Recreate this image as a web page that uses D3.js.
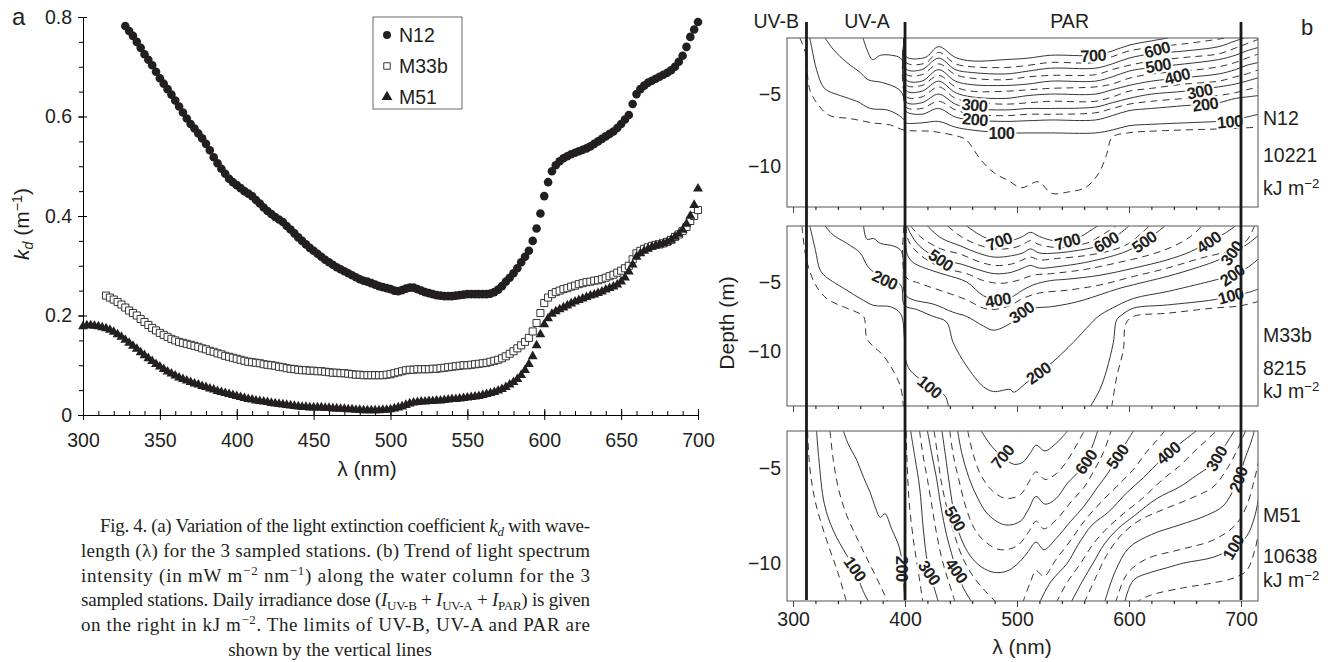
<!DOCTYPE html>
<html>
<head>
<meta charset="utf-8">
<script src="https://cdn.jsdelivr.net/npm/d3@7/dist/d3.min.js"></script>
<style>
body { margin: 0; background: #fff; }
text { font-family: "Liberation Sans", Arial, Helvetica, sans-serif; fill: #231f20; }
</style>
</head>
<body>
<div id="divChart"></div>
<script>
// ---- panel a : kd spectra (one row = 25 nm) ----
var wavelengths = [
  300,302.5,305,307.5,310,312.5,315,317.5,320,322.5,
  325,327.5,330,332.5,335,337.5,340,342.5,345,347.5,
  350,352.5,355,357.5,360,362.5,365,367.5,370,372.5,
  375,377.5,380,382.5,385,387.5,390,392.5,395,397.5,
  400,402.5,405,407.5,410,412.5,415,417.5,420,422.5,
  425,427.5,430,432.5,435,437.5,440,442.5,445,447.5,
  450,452.5,455,457.5,460,462.5,465,467.5,470,472.5,
  475,477.5,480,482.5,485,487.5,490,492.5,495,497.5,
  500,502.5,505,507.5,510,512.5,515,517.5,520,522.5,
  525,527.5,530,532.5,535,537.5,540,542.5,545,547.5,
  550,552.5,555,557.5,560,562.5,565,567.5,570,572.5,
  575,577.5,580,582.5,585,587.5,590,592.5,595,597.5,
  600,602.5,605,607.5,610,612.5,615,617.5,620,622.5,
  625,627.5,630,632.5,635,637.5,640,642.5,645,647.5,
  650,652.5,655,657.5,660,662.5,665,667.5,670,672.5,
  675,677.5,680,682.5,685,687.5,690,692.5,695,697.5,
  700];

var kdN12 = [
  null,null,null,null,null,null,null,null,null,null,
  null,.782,.772,.762,.750,.738,.725,.714,.703,.690,
  .677,.666,.655,.644,.632,.620,.608,.596,.585,.576,
  .566,.556,.545,.532,.518,.506,.495,.485,.475,.468,
  .462,.456,.450,.445,.440,.432,.425,.417,.410,.404,
  .398,.393,.388,.380,.373,.365,.357,.350,.343,.336,
  .330,.324,.318,.312,.307,.302,.297,.293,.289,.285,
  .281,.277,.273,.270,.268,.265,.262,.259,.257,.255,
  .253,.250,.249,.251,.254,.256,.256,.253,.250,.247,
  .245,.243,.241,.240,.239,.239,.239,.240,.241,.242,
  .243,.243,.243,.243,.243,.243,.244,.247,.252,.259,
  .268,.276,.285,.295,.307,.318,.330,.350,.375,.405,
  .440,.468,.490,.502,.510,.516,.520,.524,.527,.530,
  .533,.536,.540,.545,.550,.555,.560,.565,.570,.577,
  .585,.594,.603,.625,.645,.655,.662,.668,.672,.676,
  .680,.684,.688,.693,.700,.710,.722,.740,.760,.775,
  .790];

var kdM33b = [
  null,null,null,null,null,null,.240,.236,.232,.227,
  .222,.216,.210,.205,.200,.193,.187,.181,.175,.170,
  .165,.161,.157,.153,.150,.147,.145,.143,.141,.139,
  .137,.134,.132,.129,.127,.124,.122,.119,.117,.115,
  .113,.111,.109,.107,.106,.105,.104,.102,.101,.100,
  .099,.097,.096,.094,.093,.092,.091,.090,.090,.089,
  .089,.088,.088,.087,.086,.085,.085,.084,.084,.083,
  .082,.081,.081,.080,.080,.080,.080,.080,.080,.081,
  .082,.084,.086,.088,.090,.091,.091,.092,.092,.092,
  .092,.093,.093,.094,.095,.096,.097,.098,.099,.100,
  .100,.101,.102,.103,.104,.105,.107,.109,.111,.114,
  .118,.123,.128,.134,.140,.147,.155,.168,.185,.205,
  .225,.236,.243,.247,.250,.253,.255,.258,.260,.263,
  .265,.267,.268,.270,.271,.273,.276,.279,.282,.286,
  .290,.295,.300,.313,.325,.330,.334,.337,.340,.342,
  .343,.345,.348,.352,.358,.363,.370,.378,.390,.400,
  .412];

var kdM51 = [
  .178,.180,.180,.179,.178,.176,.174,.171,.167,.162,
  .157,.151,.145,.139,.133,.126,.120,.114,.108,.102,
  .097,.092,.087,.083,.079,.075,.072,.069,.066,.063,
  .061,.058,.056,.053,.051,.048,.046,.044,.042,.040,
  .038,.036,.034,.032,.031,.029,.028,.027,.026,.024,
  .023,.022,.021,.020,.019,.018,.017,.016,.016,.015,
  .015,.015,.015,.014,.014,.013,.013,.012,.012,.011,
  .011,.010,.010,.009,.009,.009,.009,.009,.010,.010,
  .011,.013,.015,.017,.020,.023,.025,.026,.027,.027,
  .028,.028,.029,.029,.030,.031,.032,.032,.033,.034,
  .035,.036,.037,.038,.040,.042,.044,.046,.049,.052,
  .056,.061,.066,.072,.080,.090,.102,.118,.140,.162,
  .182,.194,.203,.208,.212,.216,.220,.224,.228,.231,
  .234,.237,.240,.242,.245,.248,.252,.255,.258,.262,
  .268,.276,.288,.302,.318,.325,.330,.334,.338,.341,
  .343,.345,.348,.352,.358,.364,.372,.384,.400,.422,
  .455];

var seriesNames = ["N12", "M33b", "M51"];
var kdTicks = [0, 0.2, 0.4, 0.6, 0.8];
var kdTickLabels = ["0", "0.2", "0.4", "0.6", "0.8"];
var lambdaTicks = [300, 350, 400, 450, 500, 550, 600, 650, 700];

// ---- panel b : irradiance contours (level, [wavelength, depth] points) ----
var specTicks = [300, 400, 500, 600, 700];
var depthTicks = [-5, -10];
var bandEdges = [312, 400, 700];
var bandNames = ["UV-B", "UV-A", "PAR"];
var stations = ["N12", "M33b", "M51"];
var doses = ["10221", "8215", "10638"];

var n12Lines = [
  [50, [[306,-1.1],[311,-2.1],[315,-4.7],[324,-5.9],[333,-6.5],[351,-6.7],[371,-7.0],[387,-7.15],[399,-7.5],[425,-7.6],[450,-8.0],[455,-8.2],[468,-9.6],[480,-10.5],[492,-11.0],[504,-11.5],[519,-11.1],[531,-11.9],[546,-11.8],[561,-11.5],[573,-10.5],[580,-9.2],[585,-8.0],[599,-7.7],[629,-7.55],[689,-7.4],[716,-7.3]]],
  [100, [[315,-1.1],[317,-1.9],[321,-3.3],[328,-4.6],[342,-5.1],[357,-5.5],[369,-6.0],[384,-6.1],[395,-6.5],[399.2,-6.8],[400.8,-7.0],[415,-7.0],[430,-6.9],[445,-7.3],[460,-7.5],[490,-7.7],[510,-7.7],[530,-7.7],[570,-7.7],[585,-7.5],[600,-7.2],[620,-7.1],[650,-7.0],[680,-6.9],[695,-6.8],[705,-6.6],[716,-6.4]]],
  [200, [[328.6,-1.1],[336,-1.9],[348,-2.8],[360,-3.5],[367,-4.0],[380,-4.2],[395,-4.7],[399.2,-5.3],[400.8,-6.2],[415,-6.4],[430,-6.0],[445,-6.6],[460,-6.8],[490,-6.9],[510,-6.85],[530,-6.8],[570,-6.8],[585,-6.5],[600,-6.15],[620,-6.0],[650,-5.8],[680,-5.6],[695,-5.3],[705,-5.2],[716,-5.1]]],
  [250, [[399.2,-4.2],[400.8,-5.9],[415,-6.0],[430,-5.5],[445,-6.1],[460,-6.4],[490,-6.5],[510,-6.4],[530,-6.4],[570,-6.3],[585,-6.0],[600,-5.7],[620,-5.5],[650,-5.3],[680,-5.1],[695,-4.9],[705,-4.7],[716,-4.5]]],
  [300, [[362.5,-1.1],[366,-1.9],[371,-2.6],[378,-2.3],[388,-2.3],[396,-2.5],[399.2,-3.1],[400.8,-5.55],[415,-5.6],[430,-5.0],[445,-5.7],[460,-6.0],[490,-6.1],[510,-6.0],[530,-6.0],[570,-5.9],[585,-5.6],[600,-5.3],[620,-5.0],[650,-4.8],[680,-4.5],[695,-4.3],[705,-4.1],[716,-3.85]]],
  [350, [[399.2,-1.1],[400.8,-5.15],[415,-5.2],[430,-4.5],[445,-5.3],[460,-5.55],[490,-5.7],[510,-5.6],[530,-5.5],[570,-5.5],[585,-5.2],[600,-4.8],[620,-4.6],[650,-4.3],[680,-4.1],[695,-3.8],[705,-3.6],[716,-3.3]]],
  [400, [[399.2,-1.1],[400.8,-4.75],[415,-4.8],[430,-4.1],[445,-4.9],[460,-5.2],[490,-5.3],[510,-5.1],[530,-5.0],[570,-5.0],[585,-4.7],[600,-4.4],[620,-4.1],[650,-3.85],[680,-3.6],[695,-3.3],[705,-3.0],[716,-2.8]]],
  [450, [[399.2,-1.1],[400.8,-4.35],[415,-4.4],[430,-3.7],[445,-4.5],[460,-4.8],[490,-4.8],[510,-4.7],[530,-4.6],[570,-4.5],[585,-4.3],[600,-3.9],[620,-3.6],[650,-3.4],[680,-3.1],[695,-2.8],[705,-2.5],[716,-2.2]]],
  [500, [[399.2,-1.1],[400.8,-4.0],[415,-4.1],[430,-3.3],[445,-4.1],[460,-4.35],[490,-4.4],[510,-4.3],[530,-4.1],[570,-4.1],[585,-3.8],[600,-3.4],[620,-3.15],[650,-2.9],[680,-2.6],[695,-2.3],[705,-2.0],[716,-1.75]]],
  [550, [[399.2,-1.1],[400.8,-3.6],[415,-3.65],[430,-2.9],[445,-3.65],[460,-3.9],[490,-4.0],[510,-3.8],[530,-3.7],[570,-3.65],[585,-3.3],[600,-3.0],[620,-2.7],[650,-2.45],[680,-2.2],[695,-1.8],[705,-1.5],[716,-1.18]]],
  [600, [[399.2,-1.1],[400.8,-3.25],[415,-3.3],[430,-2.5],[445,-3.3],[460,-3.5],[490,-3.6],[510,-3.4],[530,-3.2],[570,-3.2],[585,-2.9],[600,-2.5],[620,-2.2],[650,-2.0],[680,-1.7],[695,-1.3],[703,-1.1]]],
  [650, [[399.2,-1.1],[400.8,-2.8],[418,-2.85],[430,-2.1],[445,-2.9],[460,-3.1],[490,-3.15],[510,-3.0],[530,-2.8],[570,-2.8],[585,-2.4],[600,-2.0],[620,-1.75],[650,-1.5],[680,-1.18],[686,-1.1]]],
  [700, [[399.2,-1.1],[400.8,-2.4],[418,-2.45],[430,-1.7],[445,-2.45],[460,-2.7],[490,-2.6],[510,-2.5],[530,-2.3],[570,-2.3],[585,-2.0],[600,-1.6],[620,-1.3],[635,-1.1]]]
];
var n12Labels = [["700",568,-2.3,-3],["600",625,-1.9,-15],["500",626,-3.0,-10],["400",643,-3.75,-15],
  ["300",663,-4.8,-12],["200",668,-5.7,-8],["100",690,-6.9,-5],["300",462,-5.75,5],["200",462.5,-6.75,5],["100",486,-7.7,0]];

var m33bLines = [
  [50, [[308,-0.94],[312,-3.4],[320,-5.2],[330,-6.2],[348,-6.9],[357,-7.2],[363,-7.5],[366,-9.1],[372,-9.7],[379,-10.2],[387,-11.1],[396,-12.6],[398.5,-14.1]]],
  [50, [[584.5,-14.1],[589,-11.9],[595,-9.9],[597.3,-8.0],[604,-7.5],[634,-7.27],[675,-6.9],[699,-6.74],[716,-6.4]]],
  [100, [[315,-0.94],[320,-2.7],[324,-4.1],[329,-4.6],[348,-5.6],[360,-6.2],[372,-6.7],[387,-6.8],[396,-7.3],[399.5,-9.1],[400.5,-10.6],[404.5,-11.4],[416,-12.2],[428,-12.8],[436,-13.3],[439,-14.1]]],
  [100, [[565,-14.1],[574,-12.8],[580,-11.4],[586,-9.4],[589,-7.75],[593.4,-7.4],[604,-6.9],[634,-6.67],[675,-6.3],[690,-6.05],[705,-5.8],[716,-5.5]]],
  [200, [[328.6,-0.94],[336,-1.6],[348,-2.2],[360,-2.9],[367,-3.9],[382,-4.85],[396,-5.2],[399.5,-6.7],[410.5,-7.0],[425,-7.5],[437,-7.9],[443,-9.4],[455,-11.1],[470,-12.6],[479,-12.95],[494,-12.8],[497,-13.0],[508.6,-12.3],[519,-11.6],[532,-10.8],[550,-9.4],[565,-8.1],[572.6,-7.5],[585,-6.9],[604,-6.2],[634,-5.7],[660,-5.2],[675,-4.9],[692,-4.5],[705,-4.0],[716,-3.3]]],
  [300, [[363,-0.94],[366,-1.9],[372,-1.85],[378,-2.2],[390,-2.4],[397,-2.8],[400,-5.9],[407.5,-6.3],[425,-6.6],[443,-7.2],[455,-7.5],[470,-8.2],[479,-8.5],[494,-8.0],[504,-7.2],[515,-6.9],[530,-6.8],[545,-6.6],[560,-6.3],[575,-5.9],[590,-5.5],[604,-5.2],[634,-4.6],[663,-3.9],[680,-3.4],[692,-2.9],[705,-2.3],[716,-1.6]]],
  [350, [[399,-0.94],[400.5,-4.6],[413,-5.1],[431,-5.6],[455,-6.3],[470,-6.9],[479,-7.0],[494,-6.7],[505,-6.2],[520,-5.8],[545,-5.6],[575,-5.2],[604,-4.6],[634,-4.0],[663,-3.3],[690,-2.7],[705,-2.0],[712,-0.94]]],
  [400, [[400,-0.94],[402,-3.0],[407.5,-3.6],[425,-4.2],[437,-4.5],[455,-5.0],[470,-6.0],[483,-6.3],[495,-6.1],[505,-5.6],[515,-5.2],[530,-4.9],[545,-4.8],[575,-4.5],[604,-4.0],[634,-3.4],[655,-2.8],[671,-2.1],[685,-1.5],[695,-0.94]]],
  [450, [[401,-0.94],[403,-2.0],[413,-3.0],[431,-3.9],[455,-4.4],[470,-4.9],[485,-5.1],[500,-4.9],[515,-4.5],[530,-4.4],[560,-4.1],[590,-3.6],[620,-3.0],[640,-2.4],[655,-1.7],[665,-0.94]]],
  [500, [[402,-0.94],[405,-1.5],[413,-2.4],[432,-3.4],[450,-3.7],[465,-4.1],[480,-4.4],[495,-4.3],[505,-4.0],[512,-3.8],[520,-4.0],[535,-3.9],[560,-3.6],[590,-3.0],[605,-2.5],[613.5,-2.08],[625,-1.4],[632,-0.94]]],
  [550, [[405,-0.94],[415,-1.8],[432,-2.6],[450,-3.0],[465,-3.5],[480,-3.8],[495,-3.7],[505,-3.4],[512,-3.2],[520,-3.4],[535,-3.3],[560,-3.1],[585,-2.7],[600,-2.2],[612,-1.4],[618,-0.94]]],
  [600, [[420,-0.94],[432,-1.8],[450,-2.4],[465,-2.9],[480,-3.2],[495,-3.1],[505,-2.9],[512,-2.6],[520,-2.9],[535,-2.9],[555,-2.7],[570,-2.45],[579.6,-2.1],[590,-1.6],[600,-0.94]]],
  [650, [[438,-0.94],[450,-1.7],[465,-2.3],[480,-2.6],[495,-2.55],[505,-2.3],[512,-2.0],[520,-2.3],[535,-2.5],[550,-2.4],[565,-2.1],[578,-1.5],[588,-0.94]]],
  [700, [[455,-0.94],[465,-1.5],[475,-1.9],[484,-2.05],[495,-2.0],[505,-1.7],[512,-1.4],[520,-1.7],[532,-2.0],[545,-2.05],[555,-1.8],[565,-1.3],[572,-0.94]]]
];
var m33bLabels = [["700",484,-2.05,-20],["700",545,-2.05,-15],["600",579.6,-2.1,-30],["500",432,-3.4,35],
  ["500",613.5,-2.08,-35],["400",483,-6.3,-10],["400",671,-2.1,-35],["300",504,-7.2,-35],["300",691.6,-2.9,-55],
  ["200",382,-4.85,25],["200",519,-11.6,-35],["200",692,-4.5,-35],["100",422,-12.6,40],["100",690.7,-6.0,-15]];

var m51Lines = [
  [50, [[313,-3.05],[315,-5.0],[320,-6.8],[330,-8.8],[340,-10.5],[348,-12.1]]],
  [50, [[605,-12.1],[619,-11.7],[649,-11.3],[675,-11.05],[693,-10.8],[705,-10.4],[712,-9.4],[716,-8.3]]],
  [100, [[321,-3.05],[323,-4.5],[328,-6.9],[336,-8.3],[348,-9.6],[355,-10.3],[362,-11.4],[368,-12.1]]],
  [100, [[596,-12.1],[604,-10.9],[619,-10.5],[634,-10.25],[649,-10.0],[675,-9.7],[693,-9.2],[705,-8.6],[712,-7.6],[716,-6.5]]],
  [150, [[333,-3.05],[336,-4.6],[341,-6.2],[348,-7.5],[358,-8.8],[368,-10.0],[378,-11.2],[385,-12.1]]],
  [150, [[588,-12.1],[598,-10.6],[615,-9.8],[645,-9.3],[675,-8.8],[695,-8.0],[705,-7.0],[712,-5.6],[716,-4.6]]],
  [200, [[345,-3.05],[349,-3.7],[357,-4.6],[363,-5.5],[369,-6.3],[373,-7.0],[378,-7.6],[382,-7.4],[388,-8.2],[395,-9.2],[398,-10.3],[399,-11.2],[400,-12.1]]],
  [200, [[578,-12.1],[588,-10.4],[600,-9.2],[620,-8.5],[645,-8.0],[669,-7.5],[684,-7.0],[692,-6.3],[697.6,-5.6],[703,-4.6],[708,-3.8],[712,-3.05]]],
  [250, [[401,-3.05],[402,-5.0],[404,-7.0],[408,-9.0],[412,-10.5],[416,-12.1]]],
  [250, [[560,-12.1],[570,-10.8],[580,-9.6],[592,-8.6],[608,-7.8],[630,-7.2],[655,-6.6],[675,-6.0],[688,-5.0],[697,-4.0],[704,-3.05]]],
  [300, [[405,-3.05],[409,-4.5],[413,-6.0],[416,-8.0],[419,-9.6],[422,-10.5],[426,-11.3],[430,-12.1]]],
  [300, [[548,-12.1],[558,-11.0],[568,-10.0],[578,-9.0],[590,-8.2],[605,-7.5],[625,-6.6],[645,-6.0],[660,-5.4],[672,-4.9],[678,-4.5],[686,-3.8],[694,-3.05]]],
  [350, [[413,-3.05],[416,-4.3],[420,-5.6],[424,-7.0],[428,-8.4],[433,-9.8],[439,-11.0],[445,-12.1]]],
  [350, [[535,-12.1],[545,-11.0],[557,-10.0],[568,-9.0],[580,-8.2],[595,-7.4],[612,-6.6],[630,-5.6],[645,-4.9],[657,-4.2],[668,-3.6],[678,-3.05]]],
  [400, [[420,-3.05],[424,-4.3],[428,-5.5],[432,-7.0],[437,-8.5],[443,-9.8],[446,-10.4],[452,-11.3],[460,-12.1]]],
  [400, [[520,-12.1],[530,-11.0],[545,-10.0],[555,-9.0],[567,-8.0],[582,-7.3],[598,-6.3],[613,-5.5],[628,-4.6],[635,-4.2],[648,-3.6],[660,-3.05]]],
  [450, [[426,-3.05],[429,-4.3],[432,-5.6],[437,-7.0],[444,-8.5],[452,-9.8],[462,-10.8],[472,-11.5],[482,-12.1]]],
  [450, [[505,-12.1],[512,-11.0],[517,-10.4],[524,-10.7],[535,-9.8],[548,-8.8],[560,-7.8],[575,-6.8],[592,-5.8],[605,-5.0],[615,-4.2],[624,-3.6],[632,-3.05]]],
  [500, [[433,-3.05],[436,-4.3],[440,-6.0],[444.7,-7.65],[450,-8.7],[458,-9.6],[468,-10.2],[480,-10.5],[492,-10.4],[503,-9.9],[510,-9.4],[517,-8.9],[524,-9.3],[535,-8.7],[548,-7.8],[560,-7.0],[572,-6.0],[582,-5.2],[589.6,-4.4],[597,-3.7],[604,-3.05]]],
  [550, [[440,-3.05],[443,-4.3],[448,-5.6],[454,-7.0],[462,-8.2],[472,-8.9],[485,-9.3],[500,-9.1],[510,-8.4],[517,-7.8],[524,-8.2],[537,-7.6],[548,-6.8],[560,-6.0],[570,-5.0],[577,-4.2],[584,-3.05]]],
  [600, [[447,-3.05],[451,-4.3],[457,-5.5],[465,-6.6],[475,-7.5],[490,-8.0],[503,-7.8],[510,-7.2],[517,-6.5],[525,-6.9],[535,-6.6],[545,-5.8],[555,-5.2],[561.6,-4.67],[567,-3.9],[572,-3.05]]],
  [650, [[456,-3.05],[461,-4.3],[468,-5.4],[478,-6.2],[490,-6.6],[503,-6.4],[510,-5.8],[517,-5.2],[525,-5.6],[535,-5.3],[545,-4.6],[553,-3.8],[560,-3.05]]],
  [700, [[468,-3.05],[478,-3.9],[487,-4.4],[497,-4.8],[505,-4.7],[512,-4.2],[517,-3.8],[525,-4.1],[533,-3.8],[540,-3.4],[545,-3.05]]]
];
var m51Labels = [["700",487,-4.4,-50],["600",561.6,-4.67,-55],["500",589.6,-4.4,-55],["400",635,-4.2,-40],
  ["300",678,-4.5,-60],["200",697.6,-5.6,-70],["100",693,-9.17,-60],["100",355.4,-10.3,55],
  ["200",397,-10.3,90],["300",421.8,-10.5,55],["400",446,-10.4,55],["500",444.7,-7.65,60]];

// ---- caption ----
var captionLines = [
  [["Fig. 4. (a) Variation of the light extinction coefficient "],["k","i"],["d","isub"],[" with wave-"]],
  [["length (\u03bb) for the 3 sampled stations. (b) Trend of light spectrum"]],
  [["intensity (in mW m"],["\u22122","sup"],[" nm"],["\u22121","sup"],[") along the water column for the 3"]],
  [["sampled stations. Daily irradiance dose ("],["I","i"],["UV-B","sub"],[" + "],["I","i"],["UV-A","sub"],[" + "],["I","i"],["PAR","sub"],[") is given"]],
  [["on the right in kJ m"],["\u22122","sup"],[". The limits of UV-B, UV-A and PAR are"]],
  [["shown by the vertical lines"]]
];

function init()
{
  var svg = d3.select("#divChart").append("svg")
    .attr("width", 1334).attr("height", 662);

  function rich(sel, parts) {
    parts.forEach(function(p) {
      var s = p[1] || "";
      var t = sel.append("tspan").text(p[0]);
      if (s.charAt(0) === "i") t.style("font-style", "italic");
      if (s.indexOf("sub") >= 0) t.attr("baseline-shift", "-4px").style("font-size", "68%");
      if (s === "sup") t.attr("baseline-shift", "7px").style("font-size", "68%");
    });
  }

  // ================= panel a =================
  var xA = d3.scaleLinear().domain([300, 700]).range([83, 698]);
  var yA = d3.scaleLinear().domain([0, 0.8]).range([415, 17]);

  // minor y ticks
  svg.append("g").attr("transform", "translate(83,0)")
    .call(d3.axisLeft(yA).tickValues(d3.range(0.05, 0.8, 0.05)).tickSize(4).tickFormat("").tickSizeOuter(0));
  var gy = svg.append("g").attr("transform", "translate(83,0)")
    .call(d3.axisLeft(yA).tickValues(kdTicks).tickSize(5).tickPadding(6).tickSizeOuter(0)
      .tickFormat(function(d, i) { return kdTickLabels[i]; }));
  gy.selectAll(".tick line").attr("x2", -5).attr("x1", 4);
  gy.selectAll("text").style("font-size", "19.5px");

  // x axis : major ticks cross the line
  svg.append("g").attr("transform", "translate(0,415)")
    .call(d3.axisBottom(xA).tickValues(d3.range(310, 700, 10)).tickSize(-4).tickFormat("").tickSizeOuter(0));
  var gx = svg.append("g").attr("transform", "translate(0,415)")
    .call(d3.axisBottom(xA).tickValues(lambdaTicks).tickSize(5).tickSizeOuter(0));
  gx.selectAll(".tick line").attr("y1", -6);
  gx.selectAll("text").style("font-size", "19.5px").attr("y", 18);

  svg.append("text").attr("x", 367).attr("y", 476).attr("text-anchor", "middle")
    .style("font-size", "21px").text("\u03bb (nm)");
  var yl = svg.append("text").attr("transform", "translate(29,224) rotate(-90)")
    .attr("text-anchor", "middle").style("font-size", "21px");
  rich(yl, [["k", "i"], ["d", "isub"], [" (m"], ["\u22121", "sup"], [")"]]);
  svg.append("text").attr("x", 12).attr("y", 25).style("font-size", "24px").text("a");

  var symTypes = [d3.symbolCircle, d3.symbolSquare, d3.symbolTriangle];
  var symbols = [
    d3.symbol().type(d3.symbolCircle).size(58),
    d3.symbol().type(d3.symbolSquare).size(50),
    d3.symbol().type(d3.symbolTriangle).size(42)
  ];
  var fills = ["#231f20", "#fff", "#231f20"];
  var strokes = ["none", "#231f20", "none"];
  var allKd = [kdN12, kdM33b, kdM51];
  [0, 1, 2].forEach(function(s) {
    var pts = wavelengths.map(function(w, i) { return [w, allKd[s][i]]; })
      .filter(function(d) { return d[1] !== null && d[1] !== undefined; });
    svg.append("g").selectAll("path").data(pts).join("path")
      .attr("transform", function(d) { return "translate(" + xA(d[0]) + "," + yA(d[1]) + ")"; })
      .attr("d", symbols[s]())
      .attr("fill", fills[s]).attr("stroke", strokes[s]).attr("stroke-width", 0.9);
  });

  // legend
  var lg = svg.append("g");
  lg.append("rect").attr("x", 373).attr("y", 17).attr("width", 89).attr("height", 92)
    .attr("fill", "#fff").attr("stroke", "#444").attr("stroke-width", 0.8);
  seriesNames.forEach(function(n, i) {
    var yy = 35 + i * 31;
    lg.append("path").attr("transform", "translate(387," + yy + ")")
      .attr("d", d3.symbol().type(symTypes[i]).size([50, 42, 50][i])())
      .attr("fill", fills[i]).attr("stroke", strokes[i]).attr("stroke-width", 0.9);
    lg.append("text").attr("x", 399).attr("y", yy + 7).style("font-size", "19.5px").text(n);
  });

  // ================= panel b =================
  var xB = d3.scaleLinear().domain([294.6, 715.2]).range([787, 1258]);
  var panels = [
    {top: 38, bottom: 207, dTop: -1.1, dBot: -12.85, lines: n12Lines, labels: n12Labels, ys: [125, 162, 195]},
    {top: 226, bottom: 406, dTop: -0.94, dBot: -14.0, lines: m33bLines, labels: m33bLabels, ys: [342, 375, 398]},
    {top: 431, bottom: 601, dTop: -3.05, dBot: -12.0, lines: m51Lines, labels: m51Labels, ys: [522, 563, 587]}
  ];

  panels.forEach(function(p, i) {
    var y = d3.scaleLinear().domain([p.dTop, p.dBot]).range([p.top, p.bottom]);
    var clipId = "clipB" + i;
    svg.append("clipPath").attr("id", clipId).append("rect")
      .attr("x", 787).attr("y", p.top).attr("width", 471).attr("height", p.bottom - p.top);

    var line = d3.line()
      .x(function(d) { return xB(d[0]); })
      .y(function(d) { return y(d[1]); })
      .curve(d3.curveCatmullRom.alpha(0.5));

    var g = svg.append("g").attr("clip-path", "url(#" + clipId + ")");
    g.selectAll("path").data(p.lines).join("path")
      .attr("d", function(d) { return line(d[1]); })
      .attr("fill", "none").attr("stroke", "#2a2a2a").attr("stroke-width", 0.95)
      .attr("stroke-dasharray", function(d) { return d[0] % 100 ? "7,5" : null; });

    g.selectAll("text").data(p.labels).join("text")
      .attr("transform", function(d) {
        return "translate(" + xB(d[1]) + "," + y(d[2]) + ") rotate(" + d[3] + ")";
      })
      .attr("text-anchor", "middle").attr("dy", "0.36em")
      .style("font-size", "16.5px").style("font-weight", "bold").style("letter-spacing", "-0.6px")
      .attr("stroke", "#fff").attr("stroke-width", 4).attr("paint-order", "stroke")
      .text(function(d) { return d[0]; });

    svg.append("rect").attr("x", 787).attr("y", p.top).attr("width", 471).attr("height", p.bottom - p.top)
      .attr("fill", "none").attr("stroke", "#555").attr("stroke-width", 1);

    // wavelength ticks under the frame
    svg.append("g").attr("transform", "translate(0," + p.bottom + ")")
      .call(d3.axisBottom(xB).tickValues(d3.range(320, 700, 20).filter(function(v) { return v % 100; }))
        .tickSize(3).tickFormat("").tickSizeOuter(0))
      .call(function(a) { a.select(".domain").remove(); });
    var gb = svg.append("g").attr("transform", "translate(0," + p.bottom + ")")
      .call(d3.axisBottom(xB).tickValues(specTicks).tickSize(6).tickSizeOuter(0))
      .call(function(a) { a.select(".domain").remove(); });
    gb.selectAll(".tick line").attr("stroke", "#444");
    if (i < 2) gb.selectAll("text").remove();
    else gb.selectAll("text").style("font-size", "19.5px").attr("y", 11);

    var gd = svg.append("g").attr("transform", "translate(787,0)")
      .call(d3.axisLeft(y).tickValues(depthTicks).tickSize(0).tickPadding(6)
        .tickFormat(function(d) { return "\u2212" + Math.abs(d); }))
      .call(function(a) { a.select(".domain").remove(); });
    gd.selectAll("text").style("font-size", "19.5px");

    svg.append("text").attr("x", 1263).attr("y", p.ys[0]).style("font-size", "19.5px").text(stations[i]);
    svg.append("text").attr("x", 1263).attr("y", p.ys[1]).style("font-size", "19.5px").text(doses[i]);
    var kj = svg.append("text").attr("x", 1263).attr("y", p.ys[2]).style("font-size", "19.5px");
    rich(kj, [["kJ m"], ["\u22122", "sup"]]);
  });

  // band limits
  svg.append("g").selectAll("line").data(bandEdges).join("line")
    .attr("x1", function(d) { return xB(d); }).attr("x2", function(d) { return xB(d); })
    .attr("y1", 22).attr("y2", 600)
    .attr("stroke", "#1a1a1a").attr("stroke-width", 2.8);
  var bandCenters = [285, 366, 547];
  svg.append("g").selectAll("text").data(bandNames).join("text")
    .attr("x", function(d, i) { return xB(bandCenters[i]); }).attr("y", 28)
    .attr("text-anchor", "middle").style("font-size", "19.5px")
    .text(function(d) { return d; });

  svg.append("text").attr("x", 1022).attr("y", 654).attr("text-anchor", "middle")
    .style("font-size", "21px").text("\u03bb (nm)");
  svg.append("text").attr("transform", "translate(734,323) rotate(-90)").attr("text-anchor", "middle")
    .style("font-size", "21px").text("Depth (m)");
  svg.append("text").attr("x", 1301).attr("y", 35).style("font-size", "22px").text("b");

  // ================= caption =================
  var cap = svg.append("g");
  captionLines.forEach(function(parts, i) {
    var t = cap.append("text")
      .style("font-family", "'Liberation Serif', 'Times New Roman', serif")
      .style("font-size", "19px")
      .attr("y", 532 + i * 24.8);
    if (i === 0) t.attr("x", 100).attr("textLength", 490).attr("lengthAdjust", "spacing");
    else if (i < 5) t.attr("x", 81).attr("textLength", 509).attr("lengthAdjust", "spacing");
    else t.attr("x", 330).attr("text-anchor", "middle");
    rich(t, parts);
  });
}

window.onload = init;
</script>
</body>
</html>
